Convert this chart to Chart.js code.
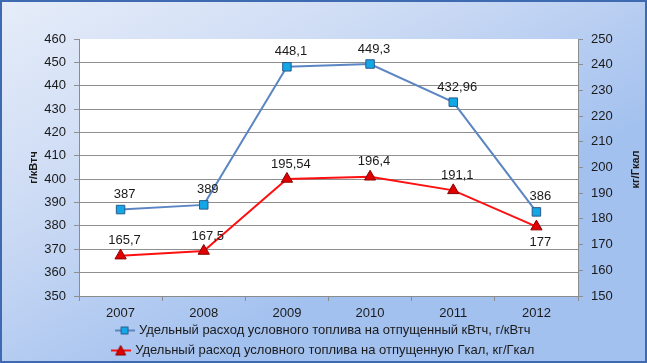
<!DOCTYPE html>
<html>
<head>
<meta charset="utf-8">
<script src="https://cdn.jsdelivr.net/npm/chart.js@4.4.1/dist/chart.umd.min.js"></script>
<style>
  html, body { margin: 0; padding: 0; background: #ffffff; }
  #wrap { width: 647px; height: 363px; }
</style>
</head>
<body>
<div id="wrap"><canvas id="chart" width="647" height="363"></canvas></div>
<script>
// === данные ===
const years = ["2007", "2008", "2009", "2010", "2011", "2012"];
const kwhValues = [387, 389, 448.1, 449.3, 432.96, 386];
const gcalValues = [165.7, 167.5, 195.54, 196.4, 191.1, 177];
const kwhName = "Удельный расход условного топлива на отпущенный кВтч, г/кВтч";
const gcalName = "Удельный расход условного топлива на отпущенную Гкал, кг/Гкал";
const leftTitle = "г/кВтч";
const rightTitle = "кг/Гкал";

const FONT = "'Liberation Sans', Arial, sans-serif";
const BLUE_LINE = "#5c86c3";
const BLUE_FILL = "#12a8e6";
const BLUE_EDGE = "#2a5a8e";
const RED_LINE = "#ff1010";
const RED_FILL = "#e00000";
const RED_EDGE = "#8a0000";

// иконка легенды: линия + маркер
function legendIcon(lineColor, fill, edge, shape) {
  const c = document.createElement("canvas");
  c.width = 20;
  c.height = 12;
  const ctx = c.getContext("2d");
  ctx.strokeStyle = lineColor;
  ctx.lineWidth = 2;
  ctx.beginPath();
  ctx.moveTo(0, 6);
  ctx.lineTo(20, 6);
  ctx.stroke();
  ctx.fillStyle = fill;
  ctx.strokeStyle = edge;
  ctx.lineWidth = 1;
  ctx.beginPath();
  if (shape === "rect") {
    ctx.rect(6.5, 2.5, 7, 7);
  } else {
    ctx.moveTo(10, 1);
    ctx.lineTo(15, 10.5);
    ctx.lineTo(5, 10.5);
    ctx.closePath();
  }
  ctx.fill();
  ctx.stroke();
  return c;
}

// фон + белая область построения
const backgroundPlugin = {
  id: "bg",
  beforeDraw(chart) {
    const { ctx, width, height, chartArea } = chart;
    ctx.save();
    const g = ctx.createLinearGradient(0, 0, width * 0.3, height);
    g.addColorStop(0, "#e6edf9");
    g.addColorStop(0.5, "#cbdaf4");
    g.addColorStop(1, "#a3c1ef");
    ctx.fillStyle = g;
    ctx.fillRect(0, 0, width, height);
    ctx.strokeStyle = "#3e6ab2";
    ctx.lineWidth = 2;
    ctx.strokeRect(1, 1, width - 2, height - 2);
    ctx.fillStyle = "#ffffff";
    ctx.fillRect(chartArea.left, chartArea.top, chartArea.right - chartArea.left, chartArea.bottom - chartArea.top);
    ctx.restore();
  },
  afterDraw(chart) {
    // заголовок правой оси читается снизу вверх, как в оригинале
    const { ctx, chartArea } = chart;
    const sc = chart.scales.y2;
    ctx.save();
    ctx.translate(sc.right - 11, (chartArea.top + chartArea.bottom) / 2 + 2);
    ctx.rotate(-Math.PI / 2);
    ctx.font = "bold 11px " + FONT;
    ctx.fillStyle = "#1a1a1a";
    ctx.textAlign = "center";
    ctx.textBaseline = "middle";
    ctx.fillText(rightTitle, 0, 0);
    ctx.restore();
  },
};

// подписи значений
const valueLabelPlugin = {
  id: "valueLabels",
  afterDatasetsDraw(chart) {
    const ctx = chart.ctx;
    ctx.save();
    ctx.font = "13px " + FONT;
    ctx.fillStyle = "#1a1a1a";
    ctx.textAlign = "center";
    ctx.textBaseline = "middle";
    chart.data.datasets.forEach((ds, i) => {
      const meta = chart.getDatasetMeta(i);
      meta.data.forEach((pt, j) => {
        const txt = String(ds.data[j]).replace(".", ",");
        const below = ds.labelBelow && ds.labelBelow[j];
        ctx.fillText(txt, pt.x + 4, below ? pt.y + 16 : pt.y - 15);
      });
    });
    ctx.restore();
  },
};

const ctx = document.getElementById("chart").getContext("2d");
new Chart(ctx, {
  type: "line",
  data: {
    labels: years,
    datasets: [
      {
        label: kwhName,
        data: kwhValues,
        yAxisID: "y",
        borderColor: BLUE_LINE,
        borderWidth: 2,
        pointStyle: "rect",
        pointRadius: 6,
        pointBackgroundColor: BLUE_FILL,
        pointBorderColor: BLUE_EDGE,
        pointBorderWidth: 1,
        tension: 0,
        legendIcon: legendIcon(BLUE_LINE, BLUE_FILL, BLUE_EDGE, "rect"),
      },
      {
        label: gcalName,
        data: gcalValues,
        yAxisID: "y2",
        borderColor: RED_LINE,
        borderWidth: 2,
        pointStyle: "triangle",
        pointRadius: 6.5,
        pointBackgroundColor: RED_FILL,
        pointBorderColor: RED_EDGE,
        pointBorderWidth: 1,
        tension: 0,
        labelBelow: [false, false, false, false, false, true],
        legendIcon: legendIcon(RED_LINE, RED_FILL, RED_EDGE, "tri"),
      },
    ],
  },
  options: {
    responsive: false,
    animation: false,
    layout: { padding: { top: 39, left: 0, right: 0, bottom: -4 } },
    plugins: {
      tooltip: { enabled: false },
      legend: {
        position: "bottom",
        labels: {
          usePointStyle: true,
          pointStyleWidth: 16,
          boxHeight: 13,
          padding: 7,
          color: "#1a1a1a",
          font: { family: FONT, size: 13 },
          generateLabels(chart) {
            return chart.data.datasets.map((ds, i) => ({
              text: ds.label,
              pointStyle: ds.legendIcon,
              datasetIndex: i,
              fontColor: "#1a1a1a",
              lineWidth: 0,
              hidden: false,
            }));
          },
        },
      },
    },
    scales: {
      x: {
        offset: true,
        afterFit(scale) { scale.height = 21; },
        grid: {
          offset: true,
          drawOnChartArea: false,
          color: "#8c8c8c",
          tickLength: 5,
        },
        border: { color: "#8c8c8c" },
        ticks: {
          color: "#1a1a1a",
          font: { family: FONT, size: 13 },
          padding: 5,
          maxRotation: 0,
        },
      },
      y: {
        position: "left",
        min: 350,
        max: 460,
        afterFit(scale) { scale.width = 79; },
        grid: {
          color: (c) => (c.tick && c.tick.value === 460 ? "rgba(0,0,0,0)" : "#8f8f8f"),
          tickColor: "#8f8f8f",
          tickLength: 5,
        },
        border: { color: "#8c8c8c" },
        ticks: {
          stepSize: 10,
          color: "#1a1a1a",
          font: { family: FONT, size: 13 },
          padding: 8,
        },
        title: {
          display: true,
          text: leftTitle,
          color: "#1a1a1a",
          font: { family: FONT, size: 11, weight: "bold" },
          padding: { top: 27, bottom: 0 },
        },
      },
      y2: {
        position: "right",
        min: 150,
        max: 250,
        afterFit(scale) { scale.width = 69; },
        grid: {
          drawOnChartArea: false,
          color: "#8f8f8f",
          tickLength: 5,
        },
        border: { color: "#8c8c8c" },
        ticks: {
          stepSize: 10,
          color: "#1a1a1a",
          font: { family: FONT, size: 13 },
          padding: 8,
        },
      },
    },
  },
  plugins: [backgroundPlugin, valueLabelPlugin],
});
</script>
</body>
</html>
